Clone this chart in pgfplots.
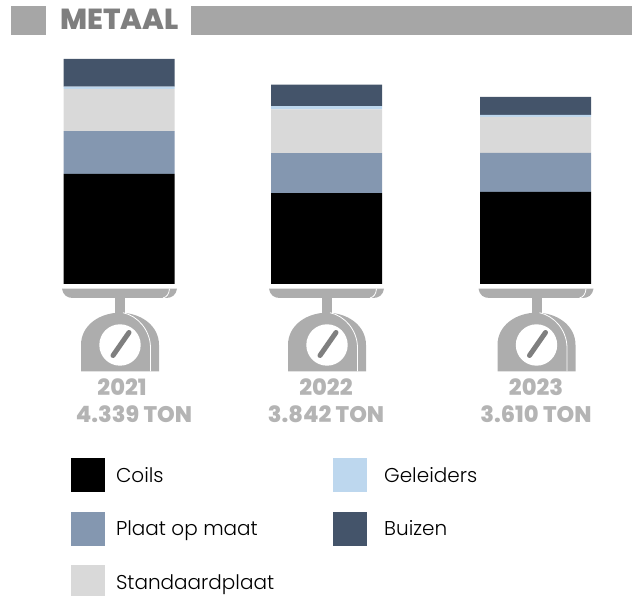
\documentclass[border=0pt]{standalone}
\usepackage{pgfplots}
\pgfplotsset{compat=1.18}
\usepackage{fontspec}
\setmainfont{Poppins}
\newfontfamily\lightfont{Poppins Light}
\newfontfamily\heavyfont{Poppins ExtraBold}
\definecolor{cCoils}{HTML}{000000}
\definecolor{cPlaat}{HTML}{8497B0}
\definecolor{cStand}{HTML}{D9D9D9}
\definecolor{cGel}{HTML}{BDD7EE}
\definecolor{cBuis}{HTML}{44546A}
\definecolor{cHead}{HTML}{A6A6A6}
\definecolor{cIcon}{HTML}{ADADAD}
\definecolor{cTitle}{HTML}{7F7F7F}
\definecolor{cLab}{HTML}{B4B4B4}
\newcommand{\scaleicon}[1]{%
 \begin{scope}[shift={(#1,0)}]
  \fill[cIcon] (-58,288.7) -- (57,288.7) .. controls (56,295) and (52,298) .. (46,298) -- (-47,298) .. controls (-53,298) and (-57,295) .. (-58,288.7) -- cycle;
  \draw[white,line width=0.8pt] (49.5,288.7) .. controls (49,294) and (47,297) .. (43,298);
  \fill[cIcon] (-5,298) rectangle (5,313);
  \fill[cIcon] (-39,371.5) -- (-39,345) .. controls (-39,325) and (-20,312.7) .. (0,312.7) .. controls (20,312.7) and (39,325) .. (39,345) -- (39,371.5) -- cycle;
  \draw[white,line width=0.8pt] (3,312.7) .. controls (18,316) and (30,330) .. (30.5,347) -- (30.5,371.5);
  \fill[white] (0,345) circle[radius=20.7pt];
  \draw[cTitle,line width=5pt,line cap=round] (-7,355.5) -- (9,332.5);
 \end{scope}}
\begin{document}
\begin{tikzpicture}
\path[use as bounding box] (0,0) rectangle (632pt,596pt);
\clip (0,0) rectangle (632pt,596pt);
\begin{axis}[
  at={(0pt,0pt)},anchor=south west,
  scale only axis,width=632pt,height=596pt,
  xmin=0,xmax=632,ymin=-6016,ymax=5476,
  axis lines=none,clip=false,
  ybar stacked,bar width=111pt,
  legend image code/.code={\fill[#1,draw=none] (0pt,-17pt) rectangle (34pt,17pt);},
  legend columns=3,transpose legend,
  legend cell align=left,
  legend style={at={(axis cs:71,-3363)},anchor=north west,draw=none,fill=none,
    inner sep=0pt,outer sep=0pt,row sep=19.5pt,font=\lightfont\fontsize{20}{23}\selectfont,
    /tikz/every even column/.append style={column sep=48pt},
    nodes={inner xsep=11pt,inner ysep=0pt}},
]
\addplot+[fill=cCoils,draw=none] coordinates {(119,2121) (326.5,1754) (535.5,1774)};
\addplot+[fill=cPlaat,draw=none] coordinates {(119,829) (326.5,771) (535.5,752)};
\addplot+[fill=cStand,draw=none] coordinates {(119,810) (326.5,843) (535.5,694)};
\addplot+[fill=cGel,draw=none] coordinates {(119,45) (326.5,64) (535.5,39)};
\addplot+[fill=cBuis,draw=none] coordinates {(119,534) (326.5,410) (535.5,351)};
\legend{Coils,Plaat op maat,Standaardplaat,\hspace{6pt}Geleiders,\hspace{6pt}Buizen}
\end{axis}
\begin{scope}[x=1pt,y=-1pt,yshift=596pt]
 \fill[cHead] (11,6) rectangle (46,35);
 \fill[cHead] (191,6) rectangle (632,35);
 \node[cTitle,font=\heavyfont\fontsize{29}{31}\selectfont,anchor=base west,inner sep=0pt] at (60,30) {METAAL};
 \scaleicon{120}\scaleicon{327}\scaleicon{536.5}
 \foreach \x/\xb/\yr/\t in {122/134/2021/4.339 TON,326/326/2022/3.842 TON,536/536/2023/3.610 TON}{
  \node[cLab,font=\heavyfont\fontsize{22.5}{24}\selectfont,anchor=base,inner sep=0pt] at (\x,396) {\yr};
  \node[cLab,font=\heavyfont\fontsize{22.5}{24}\selectfont,anchor=base,inner sep=0pt] at (\xb,423) {\t};
 }
\end{scope}
\end{tikzpicture}
\end{document}
